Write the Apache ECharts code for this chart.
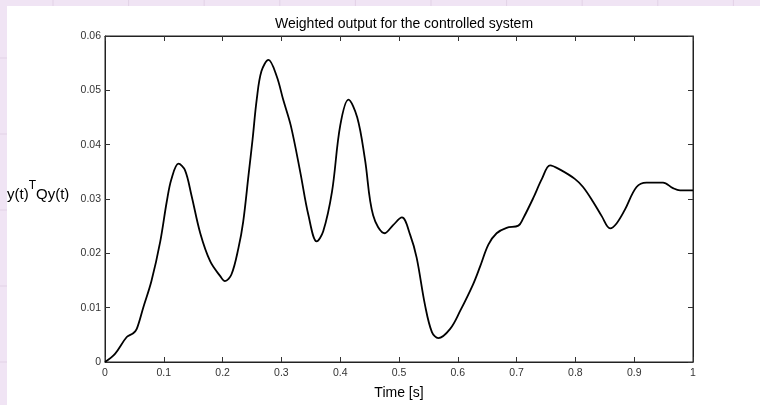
<!DOCTYPE html>
<html>
<head>
<meta charset="utf-8">
<script src="https://cdn.jsdelivr.net/npm/echarts@6/dist/echarts.min.js"></script>
<style>
  html, body { margin: 0; padding: 0; }
  #chart { width: 760px; height: 405px; }
</style>
</head>
<body>
<div id="chart"></div>
<script>
// time [s] and weighted output
var timeValues = [0, 0.017, 0.037, 0.048, 0.054, 0.065, 0.079, 0.094, 0.105, 0.113, 0.125, 0.136, 0.147, 0.162, 0.179, 0.196, 0.204, 0.215, 0.227, 0.235, 0.244, 0.251, 0.258, 0.266, 0.278, 0.292, 0.303, 0.316, 0.332, 0.346, 0.360, 0.371, 0.386, 0.400, 0.414, 0.429, 0.442, 0.456, 0.476, 0.490, 0.505, 0.519, 0.530, 0.544, 0.556, 0.567, 0.587, 0.604, 0.626, 0.638, 0.652, 0.666, 0.683, 0.703, 0.711, 0.728, 0.743, 0.757, 0.774, 0.799, 0.813, 0.830, 0.845, 0.859, 0.870, 0.884, 0.904, 0.921, 0.949, 0.966, 0.978, 1.0];
var outputValues = [0, 0.0015, 0.0046, 0.0053, 0.0061, 0.0100, 0.0149, 0.0222, 0.0295, 0.0337, 0.0365, 0.0353, 0.0307, 0.0237, 0.0185, 0.0158, 0.0149, 0.0161, 0.0210, 0.0258, 0.0343, 0.0410, 0.0483, 0.0535, 0.0556, 0.0526, 0.0483, 0.0435, 0.0350, 0.0270, 0.0222, 0.0240, 0.0313, 0.0435, 0.0483, 0.0450, 0.0374, 0.0270, 0.0237, 0.0252, 0.0266, 0.0234, 0.0192, 0.0106, 0.0055, 0.0044, 0.0061, 0.0094, 0.0143, 0.0176, 0.0216, 0.0237, 0.0247, 0.0251, 0.0264, 0.0301, 0.0337, 0.0362, 0.0354, 0.0337, 0.0322, 0.0295, 0.0268, 0.0246, 0.0255, 0.0280, 0.0322, 0.0330, 0.0330, 0.0320, 0.0316, 0.0316];

var points = timeValues.map(function(t, i) { return [t, outputValues[i]] })

// faint page grid behind the figure
var deco = [
  { type: 'rect', z: -10, shape: { x: 7, y: 6, width: 760, height: 405 }, style: { fill: '#fff' } }
]
for (var gx = 53; gx < 760; gx += 75.6) {
  deco.push({ type: 'line', z: -11, shape: { x1: gx, y1: 0, x2: gx, y2: 6 }, style: { stroke: '#e2d2e6', lineWidth: 1 } })
}
for (var gy = 58; gy < 405; gy += 76) {
  deco.push({ type: 'line', z: -11, shape: { x1: 0, y1: gy, x2: 7, y2: gy }, style: { stroke: '#e2d2e6', lineWidth: 1 } })
}
deco.push({
  type: 'text', left: 7, top: 180,
  style: {
    text: '{b|y(t)}{s|T}{b|Qy(t)}',
    rich: {
      b: { fontSize: 15, fontFamily: 'Liberation Sans', fill: '#000', verticalAlign: 'bottom', lineHeight: 22 },
      s: { fontSize: 12, fontFamily: 'Liberation Sans', fill: '#000', verticalAlign: 'top', lineHeight: 22 }
    }
  }
})

var tickStyle = { show: true, inside: true, length: 5, lineStyle: { color: '#333' } }
var lineStyle = { show: true, onZero: false, lineStyle: { color: '#222', width: 1 } }
var labelStyle = { color: '#333', fontSize: 10.5, fontFamily: 'Liberation Sans' }

var chart = echarts.init(document.getElementById('chart'))
chart.setOption({
  backgroundColor: '#f0e4f4',
  animation: false,
  title: {
    text: 'Weighted output for the controlled system',
    left: 399, top: 12, textAlign: 'center',
    textStyle: { fontSize: 14, fontWeight: 'normal', fontFamily: 'Liberation Sans', color: '#000' }
  },
  graphic: deco,
  grid: { left: 105, top: 36, right: 67, bottom: 40, show: true, borderColor: '#222', borderWidth: 1, backgroundColor: '#fff' },
  xAxis: [
    {
      type: 'value', min: 0, max: 1, interval: 0.1,
      name: 'Time [s]', nameLocation: 'middle', nameGap: 24,
      nameTextStyle: { fontSize: 14, fontFamily: 'Liberation Sans', color: '#000' },
      axisLine: lineStyle, axisTick: tickStyle,
      axisLabel: Object.assign({ margin: 6 }, labelStyle),
      splitLine: { show: false }
    },
    {
      type: 'value', min: 0, max: 1, interval: 0.1, position: 'top',
      axisLine: lineStyle, axisTick: tickStyle, axisLabel: { show: false }, splitLine: { show: false }
    }
  ],
  yAxis: [
    {
      type: 'value', min: 0, max: 0.06, interval: 0.01,
      axisLine: lineStyle, axisTick: tickStyle,
      axisLabel: Object.assign({ margin: 4 }, labelStyle),
      splitLine: { show: false }
    },
    {
      type: 'value', min: 0, max: 0.06, interval: 0.01, position: 'right',
      axisLine: lineStyle, axisTick: tickStyle, axisLabel: { show: false }, splitLine: { show: false }
    }
  ],
  series: [
    {
      type: 'line', data: points, smooth: 0.35, showSymbol: false,
      lineStyle: { color: '#000', width: 1.8 }
    }
  ]
})
</script>
</body>
</html>
